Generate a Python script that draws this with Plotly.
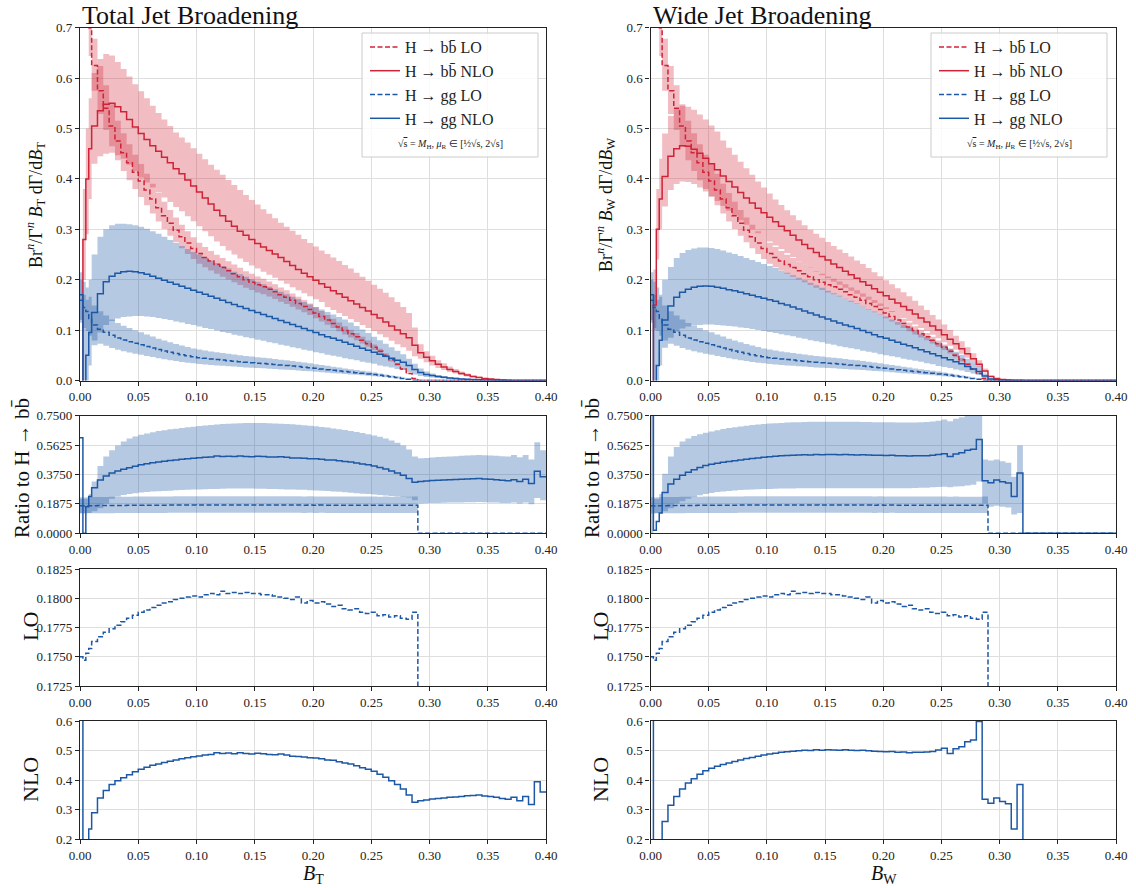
import plotly.graph_objects as go

W, H = 1136, 888

# ---------------- bin edges (B value) ----------------
EDGES = [0.0, 0.0025, 0.005, 0.0075] + [round(0.01 + 0.005 * i, 4) for i in range(79)]

# ---------------- LO (identical for B_T and B_W) ----------------
BB_LO = [0.91, 0.83, 0.78, 0.70, 0.625, 0.575, 0.54, 0.505, 0.475, 0.452,
         0.432, 0.413, 0.396, 0.378, 0.36, 0.343, 0.327, 0.312, 0.298, 0.285,
         0.273, 0.262, 0.252, 0.244, 0.237, 0.230, 0.224, 0.218, 0.212, 0.206,
         0.200, 0.195, 0.190, 0.186, 0.181, 0.176, 0.170, 0.165, 0.159, 0.153,
         0.147, 0.141, 0.134, 0.127, 0.120, 0.113, 0.106, 0.099, 0.093, 0.087,
         0.080, 0.073, 0.066, 0.058, 0.050, 0.041, 0.032, 0.023, 0.014, 0.004,
         0, 0, 0, 0, 0, 0, 0, 0, 0, 0,
         0, 0, 0, 0, 0, 0, 0, 0, 0, 0,
         0, 0]

RATIO_LO = [0.1750, 0.1747, 0.1753, 0.1757, 0.1763, 0.1767, 0.1771, 0.1774, 0.1777, 0.1780,
            0.1783, 0.17855, 0.1788, 0.1790, 0.1792, 0.1794, 0.1796, 0.1797, 0.1799, 0.1800,
            0.1801, 0.1802, 0.1801, 0.1803, 0.1804, 0.1803, 0.1806, 0.1804, 0.1805, 0.1804,
            0.1805, 0.1804, 0.1804, 0.1803, 0.1803, 0.1802, 0.1801, 0.1800, 0.1799, 0.1801,
            0.1796, 0.1798, 0.1796, 0.1797, 0.1795, 0.1793, 0.1794, 0.1791, 0.1790, 0.1791,
            0.1788, 0.1787, 0.1788, 0.1785, 0.1786, 0.1784, 0.1785, 0.1783, 0.1782, 0.1788,
            0, 0, 0, 0, 0, 0, 0, 0, 0, 0,
            0, 0, 0, 0, 0, 0, 0, 0, 0, 0,
            0, 0]

BB_LO_BAND = (0.92, 1.085)
GG_LO_BAND = (0.72, 1.35)
RATIO_LO_BAND = (0.725, 1.31)

# ---------------- Total broadening (left) ----------------
BB_NLO_T = [-0.3, 0.28, 0.40, 0.46, 0.505, 0.535, 0.548, 0.550, 0.543, 0.533,
            0.518, 0.503, 0.490, 0.478, 0.466, 0.455, 0.443, 0.432, 0.420, 0.410,
            0.398, 0.386, 0.374, 0.362, 0.350, 0.338, 0.327, 0.316, 0.306, 0.296,
            0.288, 0.280, 0.272, 0.265, 0.258, 0.251, 0.244, 0.236, 0.228, 0.220,
            0.213, 0.206, 0.199, 0.192, 0.185, 0.178, 0.172, 0.165, 0.158, 0.152,
            0.145, 0.138, 0.131, 0.124, 0.116, 0.108, 0.100, 0.093, 0.085, 0.070,
            0.055, 0.046, 0.039, 0.032, 0.027, 0.022, 0.018, 0.014, 0.011, 0.008,
            0.006, 0.004, 0.003, 0.002, 0.001, 0.0005, 0, 0, 0, 0,
            0, 0]
BB_NLO_T_HI = [-0.2, 0.38, 0.50, 0.56, 0.61, 0.638, 0.648, 0.645, 0.632, 0.618,
               0.603, 0.588, 0.574, 0.560, 0.545, 0.531, 0.518, 0.505, 0.492, 0.482,
               0.472, 0.461, 0.450, 0.439, 0.428, 0.418, 0.408, 0.398, 0.388, 0.378,
               0.368, 0.358, 0.349, 0.340, 0.331, 0.322, 0.313, 0.305, 0.297, 0.289,
               0.281, 0.273, 0.266, 0.258, 0.251, 0.244, 0.237, 0.229, 0.222, 0.214,
               0.206, 0.198, 0.190, 0.182, 0.174, 0.165, 0.156, 0.146, 0.134, 0.105,
               0.072, 0.058, 0.049, 0.040, 0.034, 0.028, 0.023, 0.018, 0.014, 0.010,
               0.008, 0.005, 0.004, 0.002, 0.001, 0.001, 0, 0, 0, 0,
               0, 0]
BB_NLO_T_LO = [-0.3, 0.20, 0.29, 0.36, 0.43, 0.445, 0.45, 0.452, 0.447, 0.44,
               0.428, 0.415, 0.403, 0.393, 0.383, 0.373, 0.363, 0.354, 0.344, 0.336,
               0.326, 0.316, 0.306, 0.296, 0.286, 0.276, 0.267, 0.258, 0.250, 0.242,
               0.235, 0.228, 0.222, 0.216, 0.210, 0.204, 0.198, 0.192, 0.185, 0.179,
               0.173, 0.167, 0.161, 0.156, 0.146, 0.140, 0.134, 0.128, 0.122, 0.116,
               0.110, 0.104, 0.098, 0.092, 0.086, 0.079, 0.072, 0.066, 0.059, 0.048,
               0.043, 0.036, 0.030, 0.025, 0.021, 0.017, 0.014, 0.011, 0.008, 0.006,
               0.005, 0.003, 0.002, 0.001, 0.001, 0, 0, 0, 0, 0,
               0, 0]
GG_NLO_T = [0.17, -0.05, 0.05, 0.095, 0.135, 0.172, 0.196, 0.207, 0.213, 0.216,
            0.217, 0.216, 0.214, 0.211, 0.207, 0.203, 0.199, 0.195, 0.191, 0.187,
            0.183, 0.179, 0.175, 0.171, 0.167, 0.163, 0.159, 0.155, 0.151, 0.147,
            0.143, 0.139, 0.135, 0.131, 0.127, 0.123, 0.119, 0.115, 0.111, 0.107,
            0.103, 0.099, 0.095, 0.091, 0.087, 0.084, 0.080, 0.076, 0.072, 0.068,
            0.064, 0.060, 0.056, 0.052, 0.048, 0.044, 0.040, 0.036, 0.030, 0.022,
            0.016, 0.012, 0.010, 0.008, 0.0065, 0.005, 0.004, 0.003, 0.0025, 0.002,
            0.0015, 0.001, 0.0008, 0.0005, 0.0003, 0.0002, 0, 0, 0, 0,
            0, 0]
GG_NLO_T_HI = [0.20, 0.17, 0.16, 0.20, 0.25, 0.285, 0.30, 0.308, 0.311, 0.311,
               0.310, 0.308, 0.305, 0.301, 0.296, 0.291, 0.285, 0.279, 0.273, 0.267,
               0.261, 0.255, 0.250, 0.244, 0.238, 0.233, 0.227, 0.222, 0.216, 0.211,
               0.206, 0.201, 0.196, 0.191, 0.186, 0.181, 0.176, 0.171, 0.166, 0.161,
               0.156, 0.151, 0.146, 0.141, 0.136, 0.131, 0.126, 0.121, 0.115, 0.108,
               0.101, 0.094, 0.087, 0.080, 0.073, 0.066, 0.059, 0.052, 0.043, 0.033,
               0.024, 0.018, 0.014, 0.011, 0.009, 0.007, 0.006, 0.005, 0.004, 0.003,
               0.0025, 0.002, 0.0015, 0.001, 0.0006, 0.0004, 0, 0, 0, 0,
               0, 0]
GG_NLO_T_LO = [0.12, -0.1, -0.02, 0.03, 0.07, 0.095, 0.11, 0.118, 0.123, 0.126,
               0.127, 0.128, 0.128, 0.127, 0.126, 0.124, 0.122, 0.120, 0.117, 0.115,
               0.112, 0.110, 0.107, 0.104, 0.102, 0.099, 0.096, 0.094, 0.091, 0.089,
               0.086, 0.084, 0.081, 0.079, 0.076, 0.074, 0.071, 0.069, 0.066, 0.064,
               0.061, 0.059, 0.056, 0.054, 0.051, 0.049, 0.047, 0.044, 0.042, 0.040,
               0.037, 0.035, 0.033, 0.030, 0.028, 0.026, 0.023, 0.021, 0.017, 0.012,
               0.009, 0.007, 0.006, 0.005, 0.004, 0.003, 0.0025, 0.002, 0.0015, 0.001,
               0.001, 0.0006, 0.0004, 0.0003, 0.0002, 0, 0, 0, 0, 0,
               0, 0]
RATIO_NLO_T = [0.61, 0.0, 0.17, 0.235, 0.29, 0.34, 0.365, 0.385, 0.398, 0.408,
               0.418, 0.428, 0.437, 0.444, 0.450, 0.455, 0.460, 0.464, 0.468, 0.472,
               0.476, 0.479, 0.482, 0.485, 0.487, 0.493, 0.490, 0.492, 0.489, 0.493,
               0.490, 0.488, 0.491, 0.489, 0.487, 0.486, 0.488, 0.485, 0.481, 0.480,
               0.478, 0.476, 0.475, 0.472, 0.468, 0.467, 0.462, 0.458, 0.455, 0.449,
               0.442, 0.437, 0.430, 0.420, 0.410, 0.398, 0.385, 0.370, 0.350, 0.325,
               0.330, 0.333, 0.336, 0.338, 0.340, 0.342, 0.343, 0.345, 0.347, 0.348,
               0.350, 0.346, 0.345, 0.342, 0.338, 0.335, 0.342, 0.330, 0.345, 0.318,
               0.395, 0.36]
RATIO_NLO_T_LO = [0.13, 0.13, 0.13, 0.13, 0.14, 0.16, 0.19, 0.22, 0.235, 0.245,
                  0.25, 0.255, 0.26, 0.263, 0.266, 0.268, 0.27, 0.272, 0.274, 0.276,
                  0.278, 0.279, 0.28, 0.281, 0.282, 0.283, 0.284, 0.285, 0.285, 0.285,
                  0.285, 0.285, 0.284, 0.284, 0.283, 0.282, 0.281, 0.28, 0.279, 0.278,
                  0.277, 0.275, 0.273, 0.271, 0.269, 0.267, 0.265, 0.262, 0.259, 0.256,
                  0.253, 0.25, 0.247, 0.244, 0.241, 0.238, 0.235, 0.232, 0.228, 0.21,
                  0.19, 0.192, 0.193, 0.194, 0.195, 0.196, 0.197, 0.197, 0.198, 0.198,
                  0.199, 0.198, 0.197, 0.196, 0.194, 0.193, 0.196, 0.19, 0.197, 0.185,
                  0.225, 0.21]
RATIO_NLO_T_HI = [0.22, 0.22, 0.22, 0.25, 0.33, 0.43, 0.49, 0.53, 0.56, 0.585,
                  0.605, 0.618, 0.628, 0.637, 0.645, 0.652, 0.658, 0.663, 0.667, 0.672,
                  0.676, 0.68, 0.684, 0.687, 0.69, 0.694, 0.697, 0.699, 0.70, 0.702,
                  0.703, 0.704, 0.704, 0.703, 0.702, 0.70, 0.699, 0.697, 0.695, 0.692,
                  0.689, 0.686, 0.682, 0.678, 0.674, 0.669, 0.664, 0.659, 0.653, 0.646,
                  0.64, 0.632, 0.624, 0.615, 0.604, 0.592, 0.578, 0.56, 0.535, 0.49,
                  0.478, 0.48, 0.483, 0.486, 0.488, 0.49, 0.492, 0.494, 0.496, 0.497,
                  0.499, 0.497, 0.496, 0.495, 0.492, 0.49, 0.50, 0.485, 0.50, 0.47,
                  0.58, 0.53]

# ---------------- Wide broadening (right) ----------------
BB_NLO_W = [-0.3, 0.15, 0.30, 0.36, 0.405, 0.445, 0.460, 0.466, 0.465, 0.459,
            0.451, 0.441, 0.430, 0.418, 0.406, 0.395, 0.384, 0.373, 0.362, 0.352,
            0.342, 0.333, 0.324, 0.315, 0.306, 0.297, 0.288, 0.279, 0.270, 0.262,
            0.254, 0.246, 0.239, 0.231, 0.224, 0.217, 0.210, 0.203, 0.196, 0.189,
            0.182, 0.175, 0.168, 0.161, 0.154, 0.147, 0.140, 0.132, 0.124, 0.116,
            0.108, 0.100, 0.091, 0.082, 0.073, 0.063, 0.053, 0.043, 0.032, 0.019,
            0.008, 0.004, 0.002, 0.001, 0.0005, 0.0003, 0, 0, 0, 0,
            0, 0, 0, 0, 0, 0, 0, 0, 0, 0,
            0, 0]
BB_NLO_W_HI = [-0.2, 0.22, 0.38, 0.44, 0.49, 0.525, 0.54, 0.545, 0.543, 0.537,
               0.528, 0.518, 0.506, 0.494, 0.476, 0.462, 0.448, 0.434, 0.421, 0.408,
               0.395, 0.383, 0.371, 0.359, 0.348, 0.338, 0.328, 0.318, 0.308, 0.299,
               0.291, 0.283, 0.275, 0.267, 0.260, 0.253, 0.246, 0.238, 0.231, 0.223,
               0.215, 0.207, 0.199, 0.191, 0.183, 0.175, 0.167, 0.158, 0.149, 0.140,
               0.130, 0.121, 0.111, 0.100, 0.089, 0.078, 0.066, 0.054, 0.040, 0.024,
               0.010, 0.005, 0.003, 0.0015, 0.0007, 0.0004, 0, 0, 0, 0,
               0, 0, 0, 0, 0, 0, 0, 0, 0, 0,
               0, 0]
BB_NLO_W_LO = [-0.3, 0.10, 0.24, 0.30, 0.345, 0.378, 0.39, 0.395, 0.394, 0.39,
               0.383, 0.375, 0.366, 0.356, 0.346, 0.337, 0.328, 0.318, 0.309, 0.300,
               0.292, 0.284, 0.276, 0.268, 0.261, 0.253, 0.245, 0.237, 0.230, 0.223,
               0.216, 0.209, 0.203, 0.196, 0.190, 0.184, 0.178, 0.172, 0.166, 0.160,
               0.154, 0.148, 0.142, 0.136, 0.130, 0.124, 0.118, 0.111, 0.104, 0.098,
               0.091, 0.084, 0.076, 0.069, 0.061, 0.053, 0.045, 0.036, 0.027, 0.016,
               0.007, 0.003, 0.0015, 0.0008, 0.0004, 0.0002, 0, 0, 0, 0,
               0, 0, 0, 0, 0, 0, 0, 0, 0, 0,
               0, 0]
GG_NLO_W = [0.17, -0.05, 0.03, 0.08, 0.12, 0.148, 0.165, 0.175, 0.181, 0.185,
            0.187, 0.1875, 0.187, 0.185, 0.183, 0.180, 0.178, 0.175, 0.172, 0.169,
            0.166, 0.163, 0.160, 0.157, 0.153, 0.150, 0.146, 0.142, 0.138, 0.134,
            0.130, 0.126, 0.122, 0.118, 0.114, 0.110, 0.107, 0.103, 0.099, 0.095,
            0.091, 0.087, 0.084, 0.080, 0.076, 0.072, 0.069, 0.065, 0.061, 0.057,
            0.053, 0.049, 0.045, 0.041, 0.037, 0.033, 0.028, 0.023, 0.018, 0.009,
            0.003, 0.0013, 0.0007, 0.0003, 0.0001, 0.0001, 0, 0, 0, 0,
            0, 0, 0, 0, 0, 0, 0, 0, 0, 0,
            0, 0]
GG_NLO_W_HI = [0.20, 0.17, 0.16, 0.17, 0.20, 0.225, 0.243, 0.253, 0.259, 0.262,
               0.264, 0.264, 0.263, 0.261, 0.258, 0.254, 0.251, 0.247, 0.243, 0.239,
               0.235, 0.231, 0.227, 0.223, 0.218, 0.214, 0.209, 0.204, 0.199, 0.194,
               0.189, 0.184, 0.178, 0.173, 0.168, 0.162, 0.158, 0.153, 0.147, 0.142,
               0.137, 0.131, 0.127, 0.121, 0.116, 0.110, 0.105, 0.099, 0.093, 0.087,
               0.081, 0.075, 0.069, 0.063, 0.057, 0.051, 0.043, 0.036, 0.028, 0.014,
               0.005, 0.002, 0.001, 0.0005, 0.0002, 0.0002, 0, 0, 0, 0,
               0, 0, 0, 0, 0, 0, 0, 0, 0, 0,
               0, 0]
GG_NLO_W_LO = [0.12, -0.1, -0.02, 0.03, 0.065, 0.085, 0.097, 0.103, 0.107, 0.109,
               0.110, 0.111, 0.111, 0.110, 0.109, 0.108, 0.107, 0.105, 0.104, 0.102,
               0.100, 0.098, 0.096, 0.094, 0.092, 0.090, 0.088, 0.085, 0.083, 0.080,
               0.078, 0.076, 0.073, 0.071, 0.068, 0.066, 0.064, 0.062, 0.059, 0.057,
               0.055, 0.052, 0.050, 0.048, 0.046, 0.043, 0.041, 0.039, 0.037, 0.034,
               0.032, 0.029, 0.027, 0.025, 0.022, 0.020, 0.017, 0.014, 0.011, 0.005,
               0.002, 0.0008, 0.0004, 0.0002, 0.0001, 0, 0, 0, 0, 0,
               0, 0, 0, 0, 0, 0, 0, 0, 0, 0,
               0, 0]
RATIO_NLO_W = [0.80, 0.02, 0.075, 0.13, 0.26, 0.315, 0.345, 0.37, 0.39, 0.405,
               0.42, 0.432, 0.44, 0.447, 0.453, 0.458, 0.463, 0.468, 0.473, 0.477,
               0.481, 0.485, 0.488, 0.491, 0.494, 0.496, 0.498, 0.499, 0.501, 0.500,
               0.503, 0.501, 0.503, 0.502, 0.501, 0.503, 0.501, 0.500, 0.501, 0.499,
               0.498, 0.497, 0.496, 0.497, 0.494, 0.495, 0.493, 0.494, 0.494, 0.495,
               0.497, 0.502, 0.508, 0.490, 0.506, 0.513, 0.530, 0.536, 0.598, 0.335,
               0.322, 0.340, 0.328, 0.320, 0.235, 0.385, 0, 0, 0, 0,
               0, 0, 0, 0, 0, 0, 0, 0, 0, 0,
               0, 0]
RATIO_NLO_W_LO = [0.0, 0.13, 0.13, 0.13, 0.14, 0.16, 0.19, 0.205, 0.22, 0.232,
                  0.242, 0.25, 0.257, 0.263, 0.267, 0.27, 0.273, 0.276, 0.278, 0.28,
                  0.281, 0.282, 0.283, 0.284, 0.285, 0.286, 0.286, 0.287, 0.287, 0.287,
                  0.287, 0.287, 0.287, 0.287, 0.287, 0.287, 0.287, 0.287, 0.287, 0.287,
                  0.287, 0.287, 0.287, 0.287, 0.287, 0.288, 0.288, 0.289, 0.29, 0.291,
                  0.293, 0.295, 0.297, 0.294, 0.298, 0.30, 0.305, 0.31, 0.33, 0.19,
                  0.17, 0.175, 0.17, 0.165, 0.12, 0.13, 0, 0, 0, 0,
                  0, 0, 0, 0, 0, 0, 0, 0, 0, 0,
                  0, 0]
RATIO_NLO_W_HI = [0.80, 0.22, 0.22, 0.25, 0.38, 0.49, 0.55, 0.585, 0.605, 0.62,
                  0.632, 0.642, 0.65, 0.658, 0.665, 0.671, 0.676, 0.681, 0.686, 0.69,
                  0.694, 0.697, 0.70, 0.702, 0.704, 0.706, 0.708, 0.709, 0.71, 0.711,
                  0.712, 0.712, 0.712, 0.712, 0.712, 0.711, 0.711, 0.711, 0.71, 0.71,
                  0.709, 0.709, 0.708, 0.708, 0.707, 0.707, 0.707, 0.707, 0.708, 0.71,
                  0.713, 0.718, 0.725, 0.715, 0.73, 0.74, 0.76, 0.77, 0.80, 0.47,
                  0.465, 0.47, 0.46, 0.45, 0.36, 0.56, 0, 0, 0, 0,
                  0, 0, 0, 0, 0, 0, 0, 0, 0, 0,
                  0, 0]

# ---------------- labels / ticks ----------------
TITLES = ["Total Jet Broadening", "Wide Jet Broadening"]
XLABELS = ["<i>B</i><sub>T</sub>", "<i>B</i><sub>W</sub>"]
YLABELS_TOP = ["Br<sup><i>n</i></sup>/Γ<sup><i>n</i></sup> <i>B</i><sub>T</sub> dΓ/d<i>B</i><sub>T</sub>",
               "Br<sup><i>n</i></sup>/Γ<sup><i>n</i></sup> <i>B</i><sub>W</sub> dΓ/d<i>B</i><sub>W</sub>"]
NAMES = ["H → bb\u0304 LO", "H → bb\u0304 NLO", "H → gg LO", "H → gg NLO"]
X_TICKS = [0.0, 0.05, 0.10, 0.15, 0.20, 0.25, 0.30, 0.35, 0.40]
TOP_TICKS = [0.0, 0.1, 0.2, 0.3, 0.4, 0.5, 0.6, 0.7]
RATIO_TICKS = [0.0, 0.1875, 0.375, 0.5625, 0.75]
LO_TICKS = [0.1725, 0.1750, 0.1775, 0.1800, 0.1825]
NLO_TICKS = [0.2, 0.3, 0.4, 0.5, 0.6]

NB = len(EDGES) - 1
for arr in [BB_LO, RATIO_LO, BB_NLO_T, BB_NLO_T_HI, BB_NLO_T_LO, GG_NLO_T, GG_NLO_T_HI, GG_NLO_T_LO,
            RATIO_NLO_T, RATIO_NLO_T_LO, RATIO_NLO_T_HI, BB_NLO_W, BB_NLO_W_HI, BB_NLO_W_LO,
            GG_NLO_W, GG_NLO_W_HI, GG_NLO_W_LO, RATIO_NLO_W, RATIO_NLO_W_LO, RATIO_NLO_W_HI]:
    assert len(arr) == NB, len(arr)

GG_LO = [b * r for b, r in zip(BB_LO, RATIO_LO)]

RED = "#cf2337"
BLUE = "#1c58a5"
RED_FILL = "rgba(207,35,55,0.30)"
BLUE_FILL = "rgba(28,88,165,0.32)"
FONT = "Liberation Serif"
DASH = "5px,2.5px"

XDOM = [[80 / W, 546 / W], [650.5 / W, 1116 / W]]
YDOM = {"top": [1 - 380.5 / H, 1 - 27.7 / H],
        "ratio": [1 - 533.3 / H, 1 - 415.7 / H],
        "lo": [1 - 686 / H, 1 - 569 / H],
        "nlo": [1 - 839.3 / H, 1 - 721 / H]}
ROWS = ["top", "ratio", "lo", "nlo"]


def axid(col, row):
    return ROWS.index(row) * 2 + col + 1


fig = go.Figure()


def step(col, row, vals, color, dash="solid", name=None, legend=None, width=1.5):
    n = axid(col, row)
    fig.add_trace(go.Scatter(
        x=EDGES, y=list(vals) + [vals[-1]], mode="lines", line_shape="hv",
        line=dict(color=color, width=width, dash=dash),
        xaxis=f"x{n}", yaxis=f"y{n}", name=name or "",
        showlegend=name is not None, legend=legend, hoverinfo="skip"))


def band(col, row, lo, hi, fill):
    n = axid(col, row)
    fig.add_trace(go.Scatter(x=EDGES, y=list(lo) + [lo[-1]], mode="lines", line_shape="hv",
                             line=dict(width=0, color=fill), xaxis=f"x{n}", yaxis=f"y{n}",
                             showlegend=False, hoverinfo="skip"))
    fig.add_trace(go.Scatter(x=EDGES, y=list(hi) + [hi[-1]], mode="lines", line_shape="hv",
                             line=dict(width=0, color=fill), fill="tonexty", fillcolor=fill,
                             xaxis=f"x{n}", yaxis=f"y{n}", showlegend=False, hoverinfo="skip"))


DATA = [
    dict(bbn=BB_NLO_T, bbn_lo=BB_NLO_T_LO, bbn_hi=BB_NLO_T_HI, ggn=GG_NLO_T, ggn_lo=GG_NLO_T_LO,
         ggn_hi=GG_NLO_T_HI, rn=RATIO_NLO_T, rn_lo=RATIO_NLO_T_LO, rn_hi=RATIO_NLO_T_HI),
    dict(bbn=BB_NLO_W, bbn_lo=BB_NLO_W_LO, bbn_hi=BB_NLO_W_HI, ggn=GG_NLO_W, ggn_lo=GG_NLO_W_LO,
         ggn_hi=GG_NLO_W_HI, rn=RATIO_NLO_W, rn_lo=RATIO_NLO_W_LO, rn_hi=RATIO_NLO_W_HI),
]

for col in range(2):
    d = DATA[col]
    leg = "legend" if col == 0 else "legend2"
    # top panel
    band(col, "top", d["bbn_lo"], d["bbn_hi"], RED_FILL)
    band(col, "top", [v * BB_LO_BAND[0] for v in BB_LO], [v * BB_LO_BAND[1] for v in BB_LO], RED_FILL)
    band(col, "top", d["ggn_lo"], d["ggn_hi"], BLUE_FILL)
    band(col, "top", [v * GG_LO_BAND[0] for v in GG_LO], [v * GG_LO_BAND[1] for v in GG_LO], BLUE_FILL)
    step(col, "top", BB_LO, RED, DASH, NAMES[0], leg)
    step(col, "top", d["bbn"], RED, "solid", NAMES[1], leg)
    step(col, "top", GG_LO, BLUE, DASH, NAMES[2], leg)
    step(col, "top", d["ggn"], BLUE, "solid", NAMES[3], leg)
    # ratio panel
    band(col, "ratio", d["rn_lo"], d["rn_hi"], BLUE_FILL)
    band(col, "ratio", [r * RATIO_LO_BAND[0] for r in RATIO_LO], [r * RATIO_LO_BAND[1] for r in RATIO_LO], BLUE_FILL)
    step(col, "ratio", RATIO_LO, BLUE, DASH)
    step(col, "ratio", d["rn"], BLUE, "solid")
    # LO / NLO panels
    step(col, "lo", RATIO_LO, BLUE, DASH)
    step(col, "nlo", d["rn"], BLUE, "solid")

GRID = "#dedede"
AX = "#222222"
layout = dict(width=W, height=H, margin=dict(l=0, r=0, t=0, b=0),
              paper_bgcolor="white", plot_bgcolor="white",
              font=dict(family=FONT, size=13, color="#222"))

YSPEC = {"top": dict(range=[0, 0.7], tickvals=TOP_TICKS, ticktext=[f"{v:.1f}" for v in TOP_TICKS]),
         "ratio": dict(range=[0, 0.75], tickvals=RATIO_TICKS, ticktext=[f"{v:.4f}" for v in RATIO_TICKS]),
         "lo": dict(range=[0.1725, 0.1825], tickvals=LO_TICKS, ticktext=[f"{v:.4f}" for v in LO_TICKS]),
         "nlo": dict(range=[0.2, 0.6], tickvals=NLO_TICKS, ticktext=[f"{v:.1f}" for v in NLO_TICKS])}

common = dict(showgrid=True, gridcolor=GRID, gridwidth=1, zeroline=False, showline=True,
              linecolor=AX, linewidth=1.2, mirror=True, ticks="outside", ticklen=4,
              tickcolor=AX, tickwidth=1, tickfont=dict(family=FONT, size=13, color="#222"),
              automargin=False, fixedrange=True)

for col in range(2):
    for row in ROWS:
        n = axid(col, row)
        layout[f"xaxis{n}"] = dict(domain=XDOM[col], anchor=f"y{n}", range=[0, 0.4],
                                   tickvals=X_TICKS, ticktext=[f"{v:.2f}" for v in X_TICKS], **common)
        layout[f"yaxis{n}"] = dict(domain=YDOM[row], anchor=f"x{n}", **YSPEC[row], **common)

# legends
for col, key in enumerate(["legend", "legend2"]):
    x0 = [365, 934][col]
    layout[key] = dict(x=x0 / W, y=1 - 30 / H, xanchor="left", yanchor="top",
                       bgcolor="rgba(0,0,0,0)", borderwidth=0, traceorder="normal",
                       font=dict(family=FONT, size=16, color="#222"),
                       itemwidth=30, tracegroupgap=0)

fig.update_layout(**layout)

# legend frames
for bx0 in [362, 931]:
    x0, x1, y0, y1 = bx0 / W, (bx0 + 176) / W, 1 - 33 / H, 1 - 157 / H
    fig.add_shape(type="rect", xref="paper", yref="paper", x0=x0, x1=x1, y0=y0, y1=y1,
                  line=dict(color="#cccccc", width=1), fillcolor="rgba(255,255,255,0.8)", layer="above")

ann = []
for col in range(2):
    xl = [80, 650.5][col]
    ann.append(dict(text=TITLES[col], x=(xl + 1) / W, y=1.0, xref="paper", yref="paper",
                    xanchor="left", yanchor="top", showarrow=False, borderpad=0,
                    font=dict(family=FONT, size=26, color="#111")))
    ann.append(dict(text=XLABELS[col], x=(xl + 233) / W, y=0.0, xref="paper", yref="paper",
                    xanchor="center", yanchor="bottom", showarrow=False, borderpad=0,
                    font=dict(family=FONT, size=20, color="#111")))
    labels = [(YLABELS_TOP[col], 35, 205, 18), ("Ratio to H → bb\u0304", 22, 468, 21),
              ("LO", 30, 627, 22), ("NLO", 30, 780, 22)]
    for txt, xp, yp, fs in labels:
        ann.append(dict(text=txt, x=(xp + (570 if col else 0)) / W, y=1 - yp / H,
                        xref="paper", yref="paper", textangle=-90, showarrow=False,
                        xanchor="center", yanchor="middle",
                        font=dict(family=FONT, size=fs, color="#111")))
    ann.append(dict(text="√<span style='text-decoration:overline'>s</span> = <i>M</i><sub>H</sub>, <i>μ</i><sub>R</sub> ∈ [½√s, 2√s]",
                    x=([450, 1019][col]) / W, y=1 - 144 / H, xref="paper", yref="paper",
                    xanchor="center", yanchor="middle", showarrow=False,
                    font=dict(family=FONT, size=10, color="#222")))
fig.update_layout(annotations=ann)

fig.write_html("out.html")
